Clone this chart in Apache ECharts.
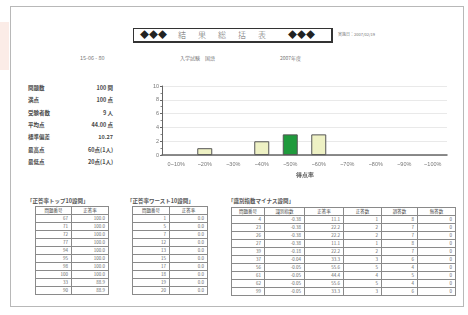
<!DOCTYPE html>
<html>
<head>
<meta charset="utf-8">
<script src="https://cdn.jsdelivr.net/npm/echarts/dist/echarts.min.js"></script>
<style>
  body { margin: 0; width: 468px; height: 315px; background: #fff; position: relative; overflow: hidden;
         font-family: "Noto Sans CJK JP", "Noto Sans", sans-serif; color: #555; }
  .abs { position: absolute; }
  #page { left: 10px; top: 6px; width: 452px; height: 299px; border: 1px solid #b8b8b8; }
  #stain { left: 0; top: 22px; width: 9px; height: 48px; background: #fbece7; }
  #titlebox { left: 133px; top: 28px; width: 197px; height: 12px; border: 1px solid #333;
              border-right-width: 2px; border-bottom-width: 2px; font-size: 8px; line-height: 12px;
              color: #333; white-space: nowrap; }
  #titlebox .dia { position: absolute; top: 0; font-size: 9px; color: #222; }
  #titlebox .ttl { position: absolute; left: 44px; top: 0; letter-spacing: 12px; color: #666; font-weight: 300; }
  .small { font-size: 5px; color: #777; white-space: nowrap; }
  .stat { font-size: 5.5px; color: #4a4a4a; white-space: nowrap; font-weight: bold; }
  .tcap { font-size: 5.5px; color: #555; white-space: nowrap; font-weight: bold; }
  table { position: absolute; border-collapse: collapse; border: 1.5px solid #555; table-layout: fixed; }
  td { border: 0.8px solid #8a8a8a; font-size: 4.5px; color: #666; height: 7px; padding: 0 3px;
       line-height: 7px; text-align: right; white-space: nowrap; overflow: hidden; }
  tr.hd td { text-align: center; color: #444; }
  #chart { left: 140px; top: 78px; width: 320px; height: 105px; }
</style>
</head>
<body>
<div id="stain" class="abs"></div>
<div id="page" class="abs"></div>
<div id="titlebox" class="abs">
  <span class="dia" style="left:6px">◆◆◆</span>
  <span class="ttl">結果総括表</span>
  <span class="dia" style="left:154px">◆◆◆</span>
</div>
<div class="abs small" style="left:338px;top:31px;font-size:4px">実施日：2007/02/19</div>
<div class="abs small" style="left:80px;top:54px;font-size:5.5px">15-06 - 80</div>
<div class="abs small" style="left:180px;top:54px">入学試験　国語</div>
<div class="abs small" style="left:280px;top:54px">2007年度</div>
<div id="stats"></div>
<div id="tables"></div>
<div id="chart" class="abs"></div>

<script>
// 得点分布
var binLabels = ['0~10%', '~20%', '~30%', '~40%', '~50%', '~60%', '~70%', '~80%', '~90%', '~100%'];
var binCounts = [0, 1, 0, 2, 3, 3, 0, 0, 0, 0];
var highlightBin = 4;

// 集計
var statLabels = ['問題数', '満点', '受験者数', '平均点', '標準偏差', '最高点', '最低点'];
var statValues = ['100 問', '100 点', '9 人', '44.00 点', '10.27', '60点(1人)', '20点(1人)'];

// 正答率トップ10
var topNo = [67, 71, 72, 77, 94, 95, 98, 100, 33, 90];
var topRate = ['100.0', '100.0', '100.0', '100.0', '100.0', '100.0', '100.0', '100.0', '88.9', '88.9'];

// 正答率ワースト10
var worstNo = [1, 5, 7, 12, 13, 15, 17, 18, 19, 20];
var worstRate = ['0.0', '0.0', '0.0', '0.0', '0.0', '0.0', '0.0', '0.0', '0.0', '0.0'];

// 識別指数マイナス
var minusNo = [4, 23, 26, 27, 39, 37, 56, 61, 62, 99];
var minusIndex = ['-0.38', '-0.38', '-0.38', '-0.38', '-0.18', '-0.04', '-0.05', '-0.05', '-0.05', '-0.05'];
var minusRate = ['11.1', '22.2', '22.2', '11.1', '22.2', '33.3', '55.6', '44.4', '55.6', '33.3'];
var minusRight = [1, 2, 2, 1, 2, 3, 5, 4, 5, 3];
var minusWrong = [8, 7, 7, 8, 7, 6, 4, 5, 4, 6];
var minusBlank = [0, 0, 0, 0, 0, 0, 0, 0, 0, 0];

// stats block
var sh = '';
for (var i = 0; i < statLabels.length; i++) {
    var y = 84 + i * 12.3;
    sh += '<div class="abs stat" style="left:28px;top:' + y + 'px">' + statLabels[i] + '</div>';
    sh += '<div class="abs stat" style="left:60px;width:53px;text-align:right;top:' + y + 'px">' + statValues[i] + '</div>';
}
document.getElementById('stats').innerHTML = sh;

function makeTable(left, top, widths, heads, cols) {
    var h = '<table style="left:' + left + 'px;top:' + top + 'px"><tr class="hd">';
    for (var c = 0; c < heads.length; c++) {
        h += '<td style="width:' + (widths[c] - 6) + 'px">' + heads[c] + '</td>';
    }
    h += '</tr>';
    for (var r = 0; r < cols[0].length; r++) {
        h += '<tr>';
        for (var c = 0; c < cols.length; c++) h += '<td>' + cols[c][r] + '</td>';
        h += '</tr>';
    }
    return h + '</table>';
}

var th = '';
th += '<div class="abs tcap" style="left:27px;top:197px">「正答率トップ10設問」</div>';
th += makeTable(35, 206, [35, 36], ['問題番号', '正答率'], [topNo, topRate]);
th += '<div class="abs tcap" style="left:127px;top:197px">「正答率ワースト10設問」</div>';
th += makeTable(132, 206, [36, 37], ['問題番号', '正答率'], [worstNo, worstRate]);
th += '<div class="abs tcap" style="left:228px;top:197px">「識別指数マイナス設問」</div>';
th += makeTable(231, 207, [32, 39, 38, 37, 35, 37],
    ['問題番号', '識別指数', '正答率', '正答数', '誤答数', '無答数'],
    [minusNo, minusIndex, minusRate, minusRight, minusWrong, minusBlank]);
document.getElementById('tables').innerHTML = th;

// chart
var myChart = echarts.init(document.getElementById('chart'));

var barData = [];
for (var j = 0; j < binCounts.length; j++) {
    var item = { value: binCounts[j] };
    if (j == highlightBin) {
        item.itemStyle = { color: '#1f9a3c' };
    }
    if (binCounts[j] == 0) {
        item.itemStyle = { borderWidth: 0 };
    }
    barData.push(item);
}

var option = {
    animation: false,
    grid: { left: 22, right: 13, top: 8, bottom: 26 },
    xAxis: {
        type: 'category',
        data: binLabels,
        name: '得点率',
        nameLocation: 'middle',
        nameGap: 15,
        nameTextStyle: { fontSize: 5.5, color: '#555', fontWeight: 'bold' },
        axisLine: { lineStyle: { color: '#666', width: 1.5 } },
        axisTick: { show: false },
        axisLabel: { fontSize: 5.5, color: '#777', margin: 6, interval: 0 }
    },
    yAxis: {
        type: 'value',
        min: 0,
        max: 10,
        interval: 2,
        axisLine: { show: true, lineStyle: { color: '#666', width: 1 } },
        axisTick: { show: true, length: 2, lineStyle: { color: '#666' } },
        minorTick: { show: true, splitNumber: 2, length: 1.5, lineStyle: { color: '#888' } },
        axisLabel: { fontSize: 5.5, color: '#777', margin: 3 },
        splitLine: { lineStyle: { color: '#e9e9e9', width: 1 } }
    },
    series: [{
        type: 'bar',
        data: barData,
        barWidth: 15,
        itemStyle: { color: '#eef1c4', borderColor: '#555', borderWidth: 1 }
    }]
};

myChart.setOption(option);
</script>
</body>
</html>
